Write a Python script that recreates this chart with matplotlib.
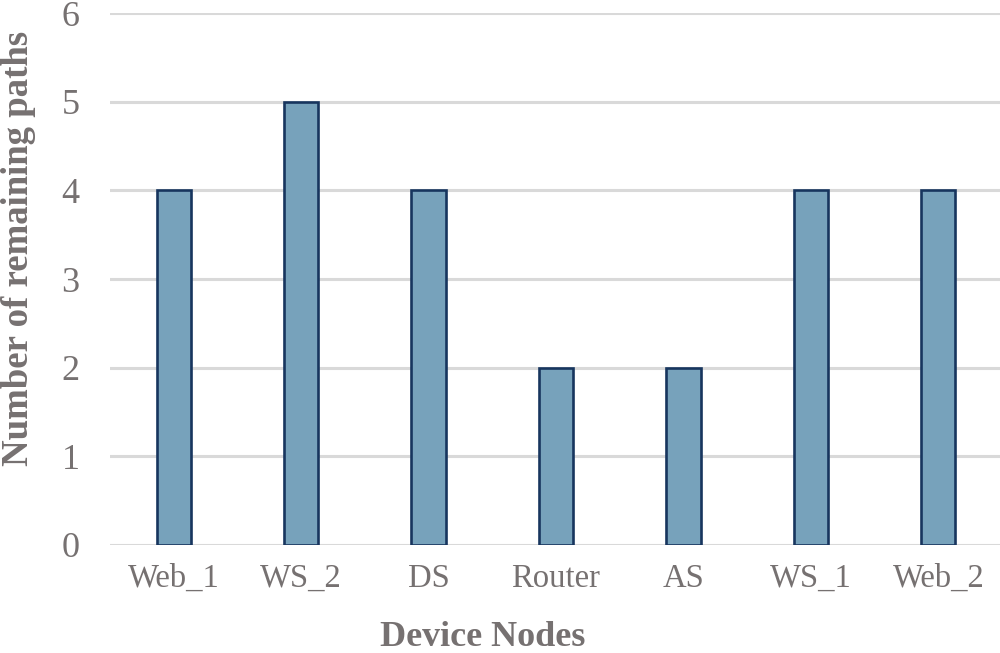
import numpy as np
import matplotlib.pyplot as plt

# Remaining paths per device node.
nodes = ['Web_1', 'WS_2', 'DS', 'Router', 'AS', 'WS_1', 'Web_2']
paths = [4, 5, 4, 2, 2, 4, 4]
yticks = [0, 1, 2, 3, 4, 5, 6]

text_grey = '#767171'

plt.rcParams['font.family'] = ['Liberation Serif', 'DejaVu Serif']

fig = plt.figure(figsize=(10, 6.53), dpi=100)
ax = fig.add_axes([0.11, 0.1654, 0.892, 0.8146])

x = np.arange(len(nodes))
ax.bar(x, paths, width=0.27, color='#77A2BB', edgecolor='#17355E',
       linewidth=1.9, zorder=3)

ax.set_xlim(-0.5, len(nodes) - 0.5)
ax.set_ylim(0, 6)
ax.set_yticks(yticks)
ax.set_xticks(x)
ax.set_xticklabels(nodes)

ax.grid(axis='y', color='#D9D9D9', linewidth=2.2, zorder=0)
ax.set_axisbelow(True)
for s in ax.spines.values():
    s.set_visible(False)

ax.tick_params(axis='both', length=0, colors=text_grey)
ax.tick_params(axis='y', pad=22, labelsize=26)
ax.tick_params(axis='x', pad=13, labelsize=23.5)

ax.set_xlabel('Device Nodes', fontsize=26, fontweight='bold', color=text_grey)
ax.set_ylabel('Number of remaining paths', fontsize=26.5, fontweight='bold',
              color=text_grey)
ax.xaxis.set_label_coords(0.418, -0.142)
ax.yaxis.set_label_coords(-0.083, 0.558)

fig.savefig('out.png', dpi=100)
